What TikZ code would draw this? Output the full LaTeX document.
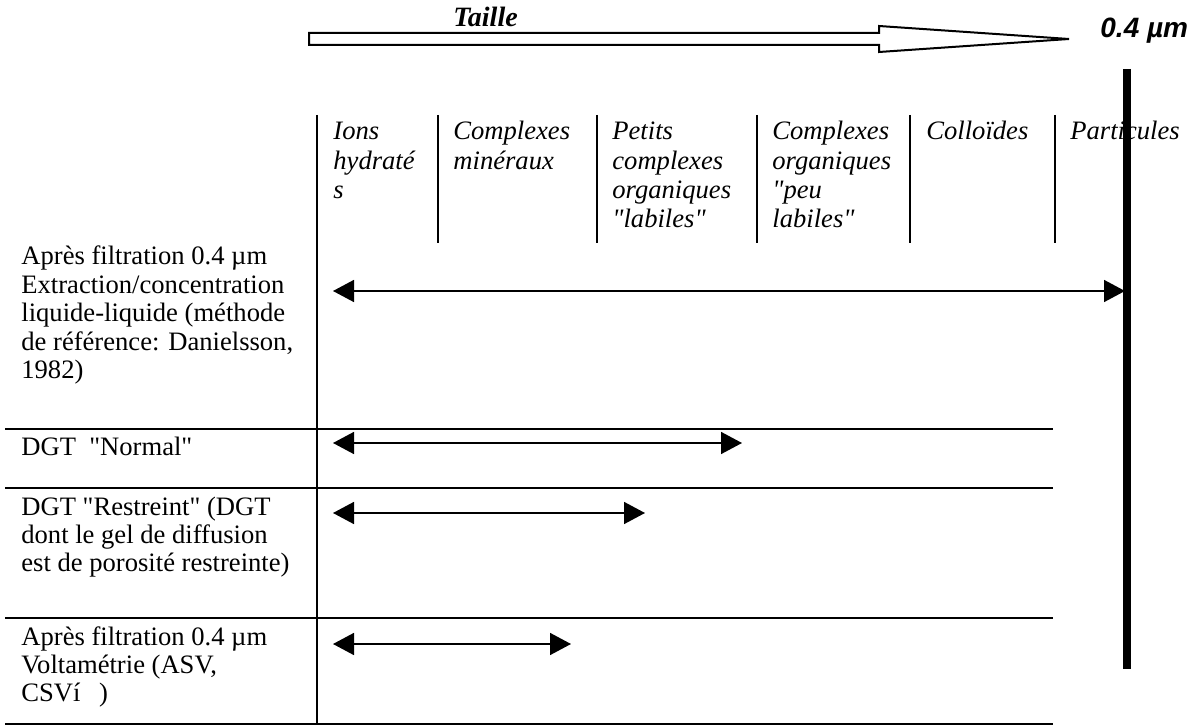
\documentclass[tikz,border=0pt]{standalone}
\usepackage{fontspec}
\setmainfont{Liberation Serif}
\newfontfamily\arialfont{Liberation Sans}
\usetikzlibrary{arrows.meta}
% plain fonts (no tex-text mapping) for straight quotes
\font\qrm="Liberation Serif" at 13.3pt
\font\qit="Liberation Serif/I" at 13.3pt
\newcommand{\qt}[1]{{\qrm"}#1{\qrm"}}
\newcommand{\qti}[1]{{\qit"}#1{\qit"}}
\newcommand{\lines}[1]{\begin{tabular}[t]{@{}l@{}}#1\end{tabular}}
\tikzstyle{cell}=[inner sep=0pt, anchor=base west, font=\fontsize{13.3}{14.2}\selectfont]
\tikzstyle{hdr}=[cell, font=\fontsize{13.3}{14.6}\selectfont\itshape]
\tikzstyle{rule}=[line width=1pt]
\tikzstyle{span}=[line width=0.8pt, <->]
\tikzset{>={Triangle[length=10.5pt,width=11pt]}}

\begin{document}
\begin{tikzpicture}[x=0.5pt, y=-0.5pt]
\useasboundingbox (0,0) rectangle (1195,727);
% size axis
\draw[rule] (309,33) -- (879,33) -- (879,26) -- (1069,39) -- (879,52) -- (879,45) -- (309,45) -- cycle;
\node[inner sep=0pt, anchor=base west, font=\fontsize{14}{16}\selectfont\bfseries\itshape] (taille) at (453,27) {Taille};
\node[inner sep=0pt, anchor=base west, font=\arialfont\fontsize{14}{16}\selectfont\bfseries\itshape] (seuil) at (1100,38) {0.4 µm};
\coordinate (barT) at (1127,69);
\coordinate (barB) at (1127,669);
\draw[line width=4pt] (barT) -- (barB);
% column heads
\node[hdr] (ions) at (333,140) {\lines{Ions\\hydraté\\s}};
\node[hdr] (cmin) at (453,140) {\lines{Complexes\\minéraux}};
\node[hdr] (pcol) at (612,140) {\lines{Petits\\complexes\\organiques\\\qti{labiles}}};
\node[hdr] (corg) at (772,140) {\lines{Complexes\\organiques\\{\qit"}peu\\labiles{\qit"}}};
\node[hdr] (coll) at (926,140) {Colloïdes};
\node[hdr] (part) at (1070,140) {Particules};
\foreach \x in {438,597,757,910,1055}
  \draw[rule] (\x,115) -- (\x,243);
% table
\draw[rule] (317,115) -- (317,724);
\foreach \y in {429,488,618,724}
  \draw[rule] (5,\y) -- (1053,\y);
% methods
\node[cell] (extr) at (21,265) {\lines{Après filtration 0.4 µm\\Extraction/concentration\\liquide-liquide (méthode\\de référence: Danielsson,\\1982)}};
\node[cell] (dgtn) at (21,455) {DGT\ \ \qt{Normal}};
\node[cell] (dgtr) at (21,515) {\lines{DGT \qt{Restreint} (DGT\\dont le gel de diffusion\\est de porosité restreinte)}};
\node[cell] (volt) at (21,645) {\lines{Après filtration 0.4 µm\\Voltamétrie (ASV,\\CSVí\hspace{0.7em})}};
% ranges
\coordinate (extrA) at (333,291);
\coordinate (extrB) at (1125,291);
\coordinate (dgtnA) at (333,443);
\coordinate (dgtnB) at (742,443);
\coordinate (dgtrA) at (333,513);
\coordinate (dgtrB) at (645,513);
\coordinate (voltA) at (333,644);
\coordinate (voltB) at (571,644);
\draw[span] (extrA) -- (extrB);
\draw[span] (dgtnA) -- (dgtnB);
\draw[span] (dgtrA) -- (dgtrB);
\draw[span] (voltA) -- (voltB);
\end{tikzpicture}
\end{document}
